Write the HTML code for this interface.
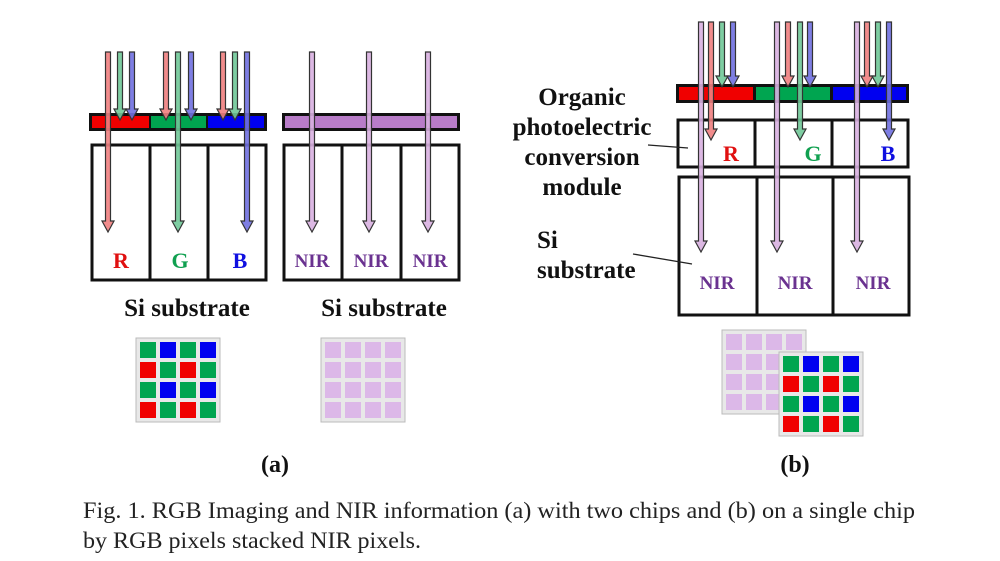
<!DOCTYPE html>
<html><head><meta charset="utf-8"><style>
body{margin:0;background:#fff;width:1000px;height:561px;overflow:hidden}
svg{display:block}
text{font-family:"Liberation Serif",serif}
</style></head><body>
<svg id="s" width="1000" height="561" viewBox="0 0 1000 561">
<rect x="89" y="113" width="178" height="18" fill="#111"/>
<rect x="92" y="116" width="57" height="12" fill="#f00000"/>
<rect x="151" y="116" width="55" height="12" fill="#00a550"/>
<rect x="208" y="116" width="56" height="12" fill="#0000f0"/>
<rect x="92" y="145" width="174" height="135" fill="#fff" stroke="#111" stroke-width="3"/>
<line x1="150" y1="145" x2="150" y2="280" stroke="#111" stroke-width="3"/>
<line x1="208" y1="145" x2="208" y2="280" stroke="#111" stroke-width="3"/>
<rect x="282" y="113" width="178" height="18" fill="#111"/>
<rect x="285" y="116" width="172" height="12" fill="#b87cc8"/>
<rect x="284" y="145" width="175" height="135" fill="#fff" stroke="#111" stroke-width="3"/>
<line x1="342" y1="145" x2="342" y2="280" stroke="#111" stroke-width="3"/>
<line x1="401" y1="145" x2="401" y2="280" stroke="#111" stroke-width="3"/>
<rect x="676" y="84" width="233" height="19" fill="#111"/>
<rect x="679" y="87" width="74" height="13" fill="#f00000"/>
<rect x="756" y="87" width="74" height="13" fill="#00a550"/>
<rect x="833" y="87" width="73" height="13" fill="#0000f0"/>
<rect x="678" y="120" width="230" height="47" fill="#fff" stroke="#111" stroke-width="3"/>
<line x1="755" y1="120" x2="755" y2="167" stroke="#111" stroke-width="3"/>
<line x1="832" y1="120" x2="832" y2="167" stroke="#111" stroke-width="3"/>
<rect x="679" y="177" width="230" height="138" fill="#fff" stroke="#111" stroke-width="3"/>
<line x1="757" y1="177" x2="757" y2="315" stroke="#111" stroke-width="3"/>
<line x1="833" y1="177" x2="833" y2="315" stroke="#111" stroke-width="3"/>
<g id="arrows"></g>
<g id="grids"></g>
<g font-weight="bold" font-size="22" text-anchor="middle">
<text x="121" y="268" fill="#e01010">R</text>
<text x="180" y="268" fill="#10a050">G</text>
<text x="240" y="268" fill="#1010e0">B</text>
<text x="731" y="161" fill="#e01010">R</text>
<text x="813" y="161" fill="#10a050">G</text>
<text x="888" y="161" fill="#1010e0">B</text>
</g>
<g font-weight="bold" font-size="19" text-anchor="middle" fill="#6a3290">
<text x="312" y="267">NIR</text><text x="371" y="267">NIR</text><text x="430" y="267">NIR</text>
<text x="717" y="289">NIR</text><text x="795" y="289">NIR</text><text x="873" y="289">NIR</text>
</g>
<g font-weight="bold" font-size="25" fill="#111">
<text x="187" y="316" text-anchor="middle">Si substrate</text>
<text x="384" y="316" text-anchor="middle">Si substrate</text>
<text x="582" y="105" text-anchor="middle">Organic</text>
<text x="582" y="135" text-anchor="middle">photoelectric</text>
<text x="582" y="165" text-anchor="middle">conversion</text>
<text x="582" y="195" text-anchor="middle">module</text>
<text x="537" y="248">Si</text>
<text x="537" y="278">substrate</text>
<text x="275" y="472" text-anchor="middle" font-size="24">(a)</text>
<text x="795" y="472" text-anchor="middle" font-size="24">(b)</text>
</g>
<line x1="648" y1="145" x2="688" y2="148" stroke="#222" stroke-width="1.3"/>
<line x1="633" y1="254" x2="692" y2="264" stroke="#222" stroke-width="1.3"/>
<g font-size="23" fill="#222">
<text x="83" y="518" textLength="832" lengthAdjust="spacingAndGlyphs">Fig. 1.  RGB Imaging and NIR information (a) with two chips and (b) on a single chip</text>
<text x="83" y="548" textLength="338" lengthAdjust="spacingAndGlyphs">by RGB pixels stacked NIR pixels.</text>
</g>
</svg>
<script>
var NS="http://www.w3.org/2000/svg";
var col={r:"#f08080",g:"#70c898",b:"#7070e0",p:"#d8b0e0"};
var A=[
["r",108,52,232],["g",120,52,120],["b",132,52,120],
["r",166,52,120],["g",178,52,232],["b",191,52,120],
["r",223,52,120],["g",235,52,120],["b",247,52,232],
["p",312,52,232],["p",369,52,232],["p",428,52,232],
["p",701,22,252],["r",711,22,140],["g",722,22,87],["b",733,22,87],
["p",777,22,252],["r",788,22,87],["g",800,22,140],["b",810,22,87],
["p",857,22,252],["r",867,22,87],["g",878,22,87],["b",889,22,140]];
var ag=document.getElementById("arrows");
A.forEach(function(a){var x=a[1],y1=a[2],y2=a[3];
var p=document.createElementNS(NS,"polygon");
p.setAttribute("points",[x-2.5,y1,x+2.5,y1,x+2.5,y2-11,x+6,y2-11,x,y2,x-6,y2-11,x-2.5,y2-11].join(" "));
p.setAttribute("fill",col[a[0]]);p.setAttribute("stroke","#333");p.setAttribute("stroke-width","1.2");
p.setAttribute("fill-opacity","0.9");ag.appendChild(p);});
var gg=document.getElementById("grids");
var R="#f00000",G="#00a550",B="#0000f0",P="#dcb8e8";
var rgb=[[G,B,G,B],[R,G,R,G],[G,B,G,B],[R,G,R,G]];
function grid(x0,y0,c){
var bg=document.createElementNS(NS,"rect");
bg.setAttribute("x",x0-2);bg.setAttribute("y",y0-2);bg.setAttribute("width",84);bg.setAttribute("height",84);
bg.setAttribute("fill","#e8e8e8");bg.setAttribute("stroke","#bbb");gg.appendChild(bg);
for(var i=0;i<4;i++)for(var j=0;j<4;j++){var r=document.createElementNS(NS,"rect");
r.setAttribute("x",x0+j*20+2);r.setAttribute("y",y0+i*20+2);r.setAttribute("width",16);r.setAttribute("height",16);
r.setAttribute("fill",c?c[i][j]:P);gg.appendChild(r);}}
grid(138,340,rgb);grid(323,340,null);grid(724,332,null);grid(781,354,rgb);
</script>
</body></html>
